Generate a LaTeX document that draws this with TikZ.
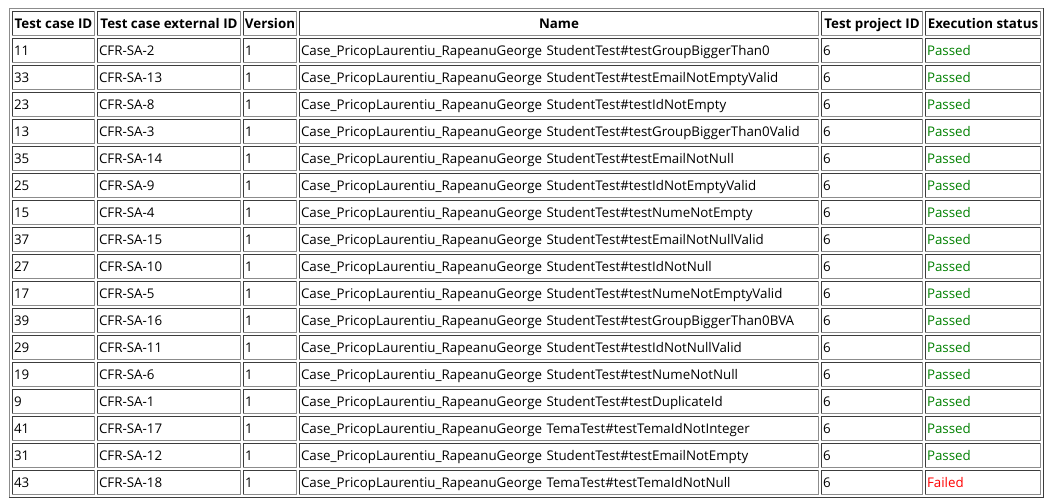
\documentclass[tikz,border=0pt]{standalone}
\usepackage{fontspec}
\setmainfont{Open Sans}
\usepackage{tikz}
\definecolor{passgreen}{HTML}{008000}
\definecolor{failred}{HTML}{FF0000}
\definecolor{bdark}{HTML}{3C3C3C}
\definecolor{blight}{HTML}{8C8C8C}
\tikzstyle{cell}=[inner xsep=1.125pt,inner ysep=0pt,minimum height=18pt,text height=9.75pt,text depth=2.25pt,align=left,font=\fontsize{10}{12}\selectfont]
\tikzstyle{head}=[cell,align=center,font=\fontsize{10}{12}\selectfont\bfseries]
\tikzstyle{tabframe}=[inner sep=0pt,minimum width=775.5pt,minimum height=366.75pt]
\tikzstyle{dk}=[draw=bdark,line width=0.75pt]
\tikzstyle{lt}=[draw=blight,line width=0.75pt]
\tikzstyle{Passed}=[text=passgreen]
\tikzstyle{Failed}=[text=failred]
\newcommand\casepfx{Case\_PricopLaurentiu\_RapeanuGeorge}
% sunken cell border: dark top/left, light bottom/right
\newcommand\inset[1]{\draw[dk] (#1.south west) |- (#1.north east);
  \draw[lt] (#1.south west) -| (#1.north east);}
\begin{document}
\begin{tikzpicture}[x=0.75pt,y=-0.75pt]
  \useasboundingbox (0,0) rectangle (1051,502);

  \node[tabframe] (tab) at (526.5,253) {};
  \draw[lt] (tab.south west) |- (tab.north east);
  \draw[dk] (tab.south west) -| (tab.north east);

  \foreach \c/\x/\w/\t in {1/53.5/82/Test case ID,2/169/143/Test case external ID,
    3/270/53/Version,4/559/519/Name,5/872/101/Test project ID,6/983/115/Execution status}{
    \node[head,minimum width=\w*0.75pt] (h\c) at (\x,23.5) {\t};
    \inset{h\c}
  }

  \foreach \id/\ext/\cls/\res [count=\n] in {
    11/CFR-SA-2/StudentTest\#testGroupBiggerThan0/Passed,
    33/CFR-SA-13/StudentTest\#testEmailNotEmptyValid/Passed,
    23/CFR-SA-8/StudentTest\#testIdNotEmpty/Passed,
    13/CFR-SA-3/StudentTest\#testGroupBiggerThan0Valid/Passed,
    35/CFR-SA-14/StudentTest\#testEmailNotNull/Passed,
    25/CFR-SA-9/StudentTest\#testIdNotEmptyValid/Passed,
    15/CFR-SA-4/StudentTest\#testNumeNotEmpty/Passed,
    37/CFR-SA-15/StudentTest\#testEmailNotNullValid/Passed,
    27/CFR-SA-10/StudentTest\#testIdNotNull/Passed,
    17/CFR-SA-5/StudentTest\#testNumeNotEmptyValid/Passed,
    39/CFR-SA-16/StudentTest\#testGroupBiggerThan0BVA/Passed,
    29/CFR-SA-11/StudentTest\#testIdNotNullValid/Passed,
    19/CFR-SA-6/StudentTest\#testNumeNotNull/Passed,
    9/CFR-SA-1/StudentTest\#testDuplicateId/Passed,
    41/CFR-SA-17/TemaTest\#testTemaIdNotInteger/Passed,
    31/CFR-SA-12/StudentTest\#testEmailNotEmpty/Passed,
    43/CFR-SA-18/TemaTest\#testTemaIdNotNull/Failed}{
    \pgfmathsetmacro\yy{23.5+27*\n}
    \node[cell,text width=59.25pt] (a\n) at (53.5,\yy) {\id};
    \node[cell,text width=105pt] (b\n) at (169,\yy) {\ext};
    \node[cell,text width=37.5pt] (v\n) at (270,\yy) {1};
    \node[cell,text width=387pt] (nm\n) at (559,\yy) {\casepfx\ \cls};
    \node[cell,text width=73.5pt] (p\n) at (872,\yy) {6};
    \node[cell,text width=84pt,\res] (s\n) at (983,\yy) {\res};
    \foreach \k in {a,b,v,nm,p,s}{\inset{\k\n}}
  }
\end{tikzpicture}
\end{document}
